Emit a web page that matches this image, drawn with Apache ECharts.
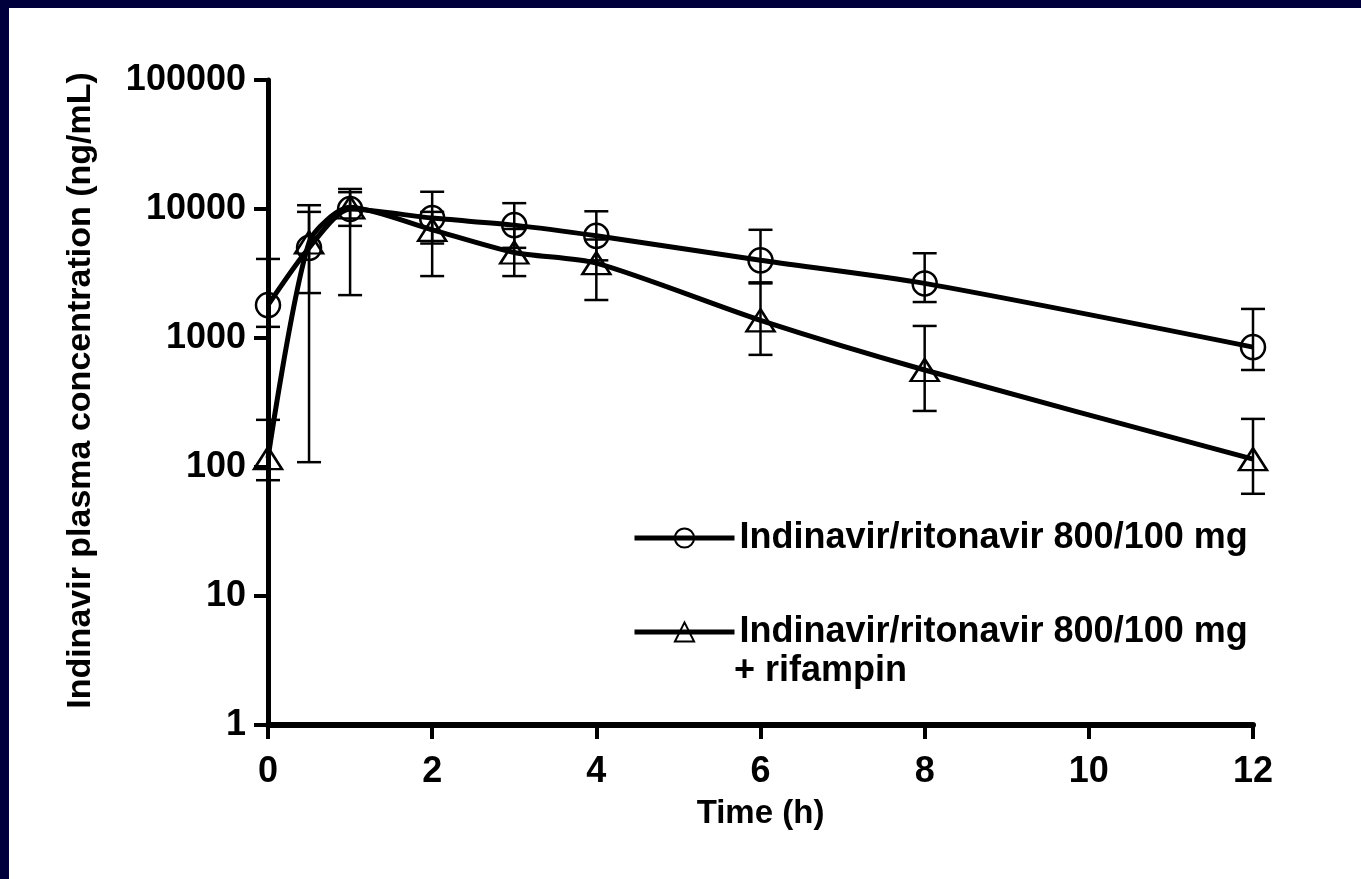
<!DOCTYPE html>
<html>
<head>
<meta charset="utf-8">
<script src="https://cdn.jsdelivr.net/npm/echarts@6/dist/echarts.min.js"></script>
<style>
  html, body { margin: 0; padding: 0; width: 1361px; height: 879px; background: #00003c; overflow: hidden; }
  #chart { position: absolute; left: 9px; top: 8px; width: 1352px; height: 871px; background: #ffffff; }
</style>
</head>
<body>
<div id="chart"></div>
<script>
// ---- data ----
const times = [0, 0.5, 1, 2, 3, 4, 6, 8, 12];
const xTicks = [0, 2, 4, 6, 8, 10, 12];
const yTicks = [1, 10, 100, 1000, 10000, 100000];

const nameA = 'Indinavir/ritonavir 800/100 mg';
const nameB = 'Indinavir/ritonavir 800/100 mg + rifampin';

const meanA = [1800, 5000, 10000, 8500, 7500, 6200, 4000, 2650, 850];
const lowA  = [1220, 2230, 7400, 5400, 5000, 4000, 2700, 1900, 565];
const highA = [4100, 9500, 13500, 13600, 11100, 9600, 6900, 4540, 1680];

const meanB = [117, 5500, 10300, 6900, 4600, 3800, 1370, 565, 115];
const lowB  = [79, 109, 2150, 3020, 3020, 1970, 740, 272, 62];
const highB = [232, 10700, 14300, 9500, 7000, 5800, 2650, 1240, 236];

// ---- build ----
const FONT = '"Liberation Sans", Arial, sans-serif';
const chart = echarts.init(document.getElementById('chart'));

function pairs(xs, ys) { return xs.map((x, i) => [x, ys[i]]); }
function errData(xs, lo, hi) { return xs.map((x, i) => [x, lo[i], hi[i]]); }

function errorSeries(name, data) {
  return {
    type: 'custom',
    name: name + ' SD',
    data: data,
    z: 3,
    silent: true,
    encode: { x: 0, y: [1, 2] },
    renderItem: function (params, api) {
      const x = api.value(0);
      const p1 = api.coord([x, api.value(1)]);
      const p2 = api.coord([x, api.value(2)]);
      const hw = 12;
      const st = { stroke: '#000', lineWidth: 2.5, fill: null };
      return {
        type: 'group',
        children: [
          { type: 'line', shape: { x1: p1[0], y1: p1[1], x2: p2[0], y2: p2[1] }, style: st },
          { type: 'line', shape: { x1: p1[0] - hw, y1: p1[1], x2: p1[0] + hw, y2: p1[1] }, style: st },
          { type: 'line', shape: { x1: p2[0] - hw, y1: p2[1], x2: p2[0] + hw, y2: p2[1] }, style: st }
        ]
      };
    }
  };
}

const option = {
  backgroundColor: '#ffffff',
  animation: false,
  grid: { left: 259, right: 108, top: 72, bottom: 154, containLabel: false },
  legend: {
    orient: 'vertical',
    left: 618,
    top: 507,
    itemWidth: 100,
    itemHeight: 24,
    itemGap: 58,
    data: [nameA, nameB],
    lineStyle: { width: 5, color: '#000' },
    formatter: function (n) { return n === nameB ? nameA : n; },
    textStyle: { fontFamily: FONT, fontWeight: 'bold', fontSize: 36, color: '#000' }
  },
  graphic: [{
    type: 'text',
    left: 725,
    top: 645,
    style: { text: '+ rifampin', font: 'bold 36px ' + FONT, fill: '#000' }
  }],
  xAxis: {
    type: 'value',
    min: 0, max: 12, interval: 2,
    name: 'Time (h)',
    nameLocation: 'middle',
    nameGap: 72,
    nameTextStyle: { fontFamily: FONT, fontWeight: 'bold', fontSize: 33, color: '#000' },
    axisLine: { lineStyle: { color: '#000', width: 6 } },
    axisTick: { show: true, length: 14, lineStyle: { color: '#000', width: 4 } },
    axisLabel: { margin: 29, fontFamily: FONT, fontWeight: 'bold', fontSize: 36, color: '#000',
      customValues: xTicks },
    splitLine: { show: false }
  },
  yAxis: {
    type: 'log',
    logBase: 10,
    min: 1, max: 100000,
    name: 'Indinavir plasma concentration (ng/mL)',
    nameLocation: 'middle',
    nameGap: 170,
    nameTextStyle: { fontFamily: FONT, fontWeight: 'bold', fontSize: 34, color: '#000',
      padding: [0, 0, 0, 24] },
    axisLine: { show: true, lineStyle: { color: '#000', width: 5 } },
    axisTick: { show: true, length: 14, lineStyle: { color: '#000', width: 4 } },
    minorTick: { show: false },
    axisLabel: { margin: 22, fontFamily: FONT, fontWeight: 'bold', fontSize: 36, color: '#000',
      customValues: yTicks,
      formatter: function (v) { return String(Math.round(v)); } },
    splitLine: { show: false }
  },
  series: [
    errorSeries(nameA, errData(times, lowA, highA)),
    errorSeries(nameB, errData(times, lowB, highB)),
    {
      type: 'line', name: nameA, data: pairs(times, meanA), z: 5,
      smooth: 0.25,
      symbol: 'circle', symbolSize: 24,
      lineStyle: { color: '#000', width: 5 },
      itemStyle: { color: 'rgba(255,255,255,0)', borderColor: '#000', borderWidth: 2.5 }
    },
    {
      type: 'line', name: nameB, data: pairs(times, meanB), z: 5,
      smooth: 0.25,
      symbol: 'triangle', symbolSize: [28, 22],
      lineStyle: { color: '#000', width: 5 },
      itemStyle: { color: 'rgba(255,255,255,0)', borderColor: '#000', borderWidth: 2.5 }
    }
  ]
};
chart.setOption(option);
</script>
</body>
</html>
